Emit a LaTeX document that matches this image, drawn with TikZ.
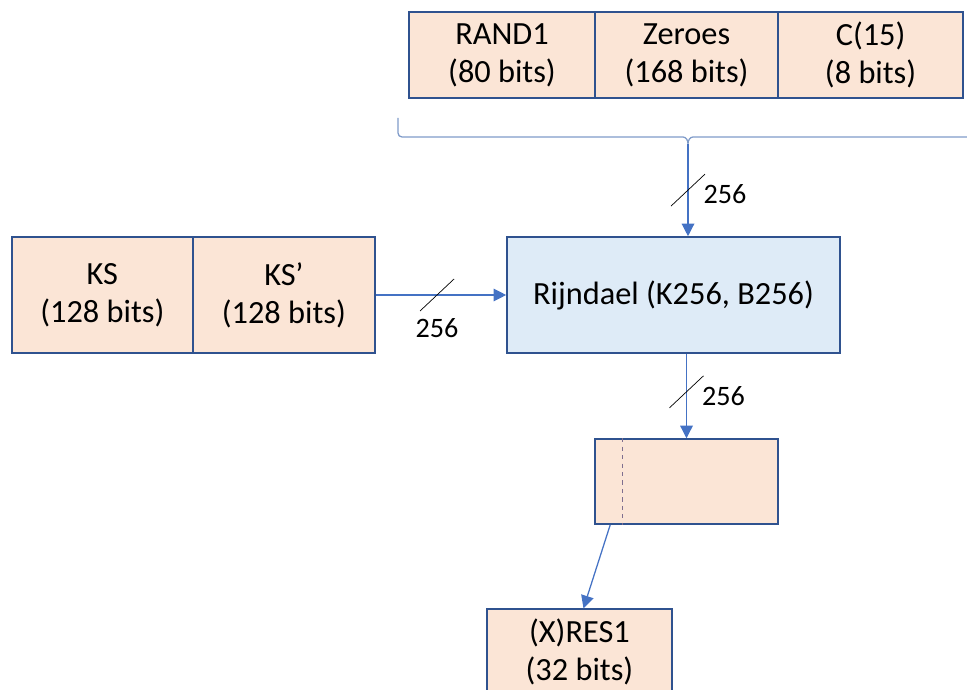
\documentclass[tikz,border=0pt]{standalone}
\usepackage{fontspec}
\setmainfont{Carlito}
\usepackage{xcolor}
\usepackage{tikz}
\usetikzlibrary{arrows.meta, positioning}
\definecolor{peach}{HTML}{FBE5D6}
\definecolor{paleblue}{HTML}{DEEBF7}
\definecolor{boxline}{HTML}{2F528F}
\definecolor{flowline}{HTML}{4472C4}
\definecolor{braceline}{HTML}{7F9BC9}
\definecolor{cutline}{HTML}{7F6F8F}
\tikzset{
    fieldnode/.style = {draw=boxline, fill=peach, rectangle, line width=1.1pt, inner sep=0em,
      node distance=0em, font=\fontsize{23}{27}\selectfont},
    ciphernode/.style = {draw=boxline, fill=paleblue, rectangle, line width=1.1pt, inner sep=0em,
      node distance=0em, font=\fontsize{23}{27}\selectfont},
    textnode/.style  = {draw=none, fill=none, rectangle, inner sep=0em, node distance=0em,
      font=\fontsize{20}{22}\selectfont},
    connect/.style = {flowline, line width=0.9pt, -{Triangle[length=9pt,width=9pt]}},
    slash/.style = {black, line width=0.5pt},
    every text node part/.style={align=center}
}

\begin{document}
\begin{tikzpicture}[x=0.025cm, y=-0.025cm]
    \useasboundingbox (0,0) rectangle (967,690);
    \clip (0,0) rectangle (967,690);

    \node [name=rand1, fieldnode, minimum width=4.65cm, minimum height=2.15cm] at (502,55)
        {RAND1\\(80 bits)};
    \node [name=zeroes, fieldnode, minimum width=4.575cm, minimum height=2.15cm,
        right of = rand1, xshift=4.6125cm] {Zeroes\\(168 bits)};
    \node [name=c15, fieldnode, minimum width=4.625cm, minimum height=2.15cm,
        right of = zeroes, xshift=4.6cm] {C(15)\\(8 bits)};

    \draw [braceline, line width=0.9pt] (398,118) -- (398,133) to[out=-90,in=180] (402,137)
        -- (683,137) to[out=0,in=90] (688,144) to[out=90,in=180] (693,137) -- (975,137);
    \coordinate (bracetip) at (688,144);

    \node [name=rijndael, ciphernode, minimum width=8.325cm, minimum height=2.9cm] at (673.5,295)
        {Rijndael (K256, B256)};

    \node [name=ksp, fieldnode, minimum width=4.55cm, minimum height=2.9cm,
        right of = rijndael, xshift=-9.7375cm] {KS’\\(128 bits)};
    \node [name=ks, fieldnode, minimum width=4.525cm, minimum height=2.9cm,
        right of = ksp, xshift=-4.5375cm] {KS\\(128 bits)};

    \node [name=trunc, fieldnode, minimum width=4.575cm, minimum height=2.125cm,
        below of = rijndael, xshift=0.325cm, yshift=-4.6625cm] {};
    \draw [cutline, dashed, line width=0.7pt] ([xshift=0.7cm]trunc.north west)
        -- ([xshift=0.7cm]trunc.south west);

    \node [name=res1, fieldnode, minimum width=4.625cm, minimum height=2.15cm,
        below of = trunc, xshift=-2.675cm, yshift=-4.2625cm] {(X)RES1\\(32 bits)};

    % 256-bit buses
    \draw [connect] (bracetip) -- coordinate[pos=0.5] (bus1) (bracetip |- rijndael.north);
    \draw [slash] ([shift={(-17,16)}]bus1) -- ([shift={(17,-16)}]bus1);
    \node [name=w1, textnode, right of = bus1, xshift=0.925cm, yshift=-0.1cm] {256};

    \draw [connect] (ksp.east |- rijndael.west) -- coordinate[pos=0.47] (bus2) (rijndael.west);
    \draw [slash] ([shift={(-17,16)}]bus2) -- ([shift={(17,-16)}]bus2);
    \node [name=w2, textnode, below of = bus2, yshift=-0.825cm] {256};

    \draw [connect] (rijndael.south -| trunc.north) -- coordinate[pos=0.45] (bus3) (trunc.north);
    \draw [slash] ([shift={(-17,16)}]bus3) -- ([shift={(17,-16)}]bus3);
    \node [name=w3, textnode, right of = bus3, xshift=0.925cm, yshift=-0.1cm] {256};

    \draw [connect] ([xshift=0.4cm]trunc.south west) -- ([xshift=0.1cm]res1.north);
\end{tikzpicture}
\end{document}
